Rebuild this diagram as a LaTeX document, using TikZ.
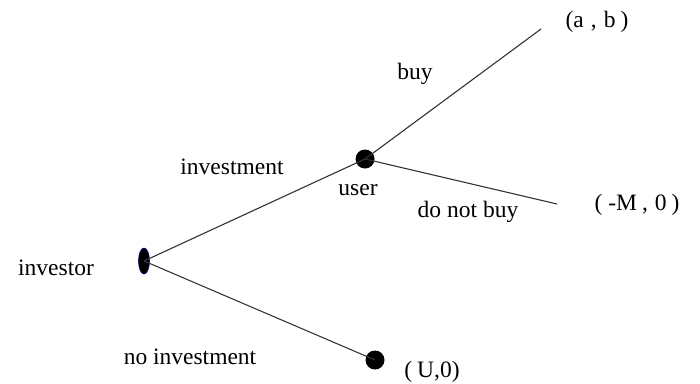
\documentclass[tikz,border=0pt]{standalone}
\usepackage{fontspec}
\setmainfont{Liberation Serif}
\usetikzlibrary{shapes.geometric}
\begin{document}
\begin{tikzpicture}[x=1pt,y=-1pt,
  branch/.style={draw=black!80, line width=1.1pt},
  dot/.style={circle, fill=black, inner sep=0pt, minimum size=19pt},
  lbl/.style={font=\fontsize{23.5}{26}\selectfont, inner sep=0pt, anchor=center}]
\useasboundingbox (0,0) rectangle (700,383);
\node[ellipse, fill=black, draw=blue!50!black, line width=0.6pt, inner sep=0pt, minimum width=11pt, minimum height=26pt] (inv) at (144,261) {};
\node[dot] (user) at (365,159) {};
\node[dot] (u0) at (375,360) {};
\coordinate (ab) at (541,29);
\coordinate (mm) at (557,204);
\draw[branch] (inv.center) -- (user.center);
\draw[branch] (inv.center) -- (u0.center);
\draw[branch] (user.center) -- (ab);
\draw[branch] (user.center) -- (mm);
\node[lbl] (tab) at (597,22) {(a\hspace{7pt},\hspace{7pt}b\hspace{5pt})};
\node[lbl] (tmm) at (637,205) {(\hspace{6pt}-M\hspace{5pt},\hspace{7pt}0\hspace{5pt})};
\node[lbl] (tu0) at (432,372) {(\hspace{5pt}U,0)};
\node[lbl] (tbuy) at (415,74) {buy};
\node[lbl] (tinvest) at (232,167) {investment};
\node[lbl] (tuser) at (358,190) {user};
\node[lbl] (tdnb) at (468,212) {do not buy};
\node[lbl] (tinvestor) at (56,268) {investor};
\node[lbl] (tnoinv) at (190,357) {no investment};
\end{tikzpicture}
\end{document}
